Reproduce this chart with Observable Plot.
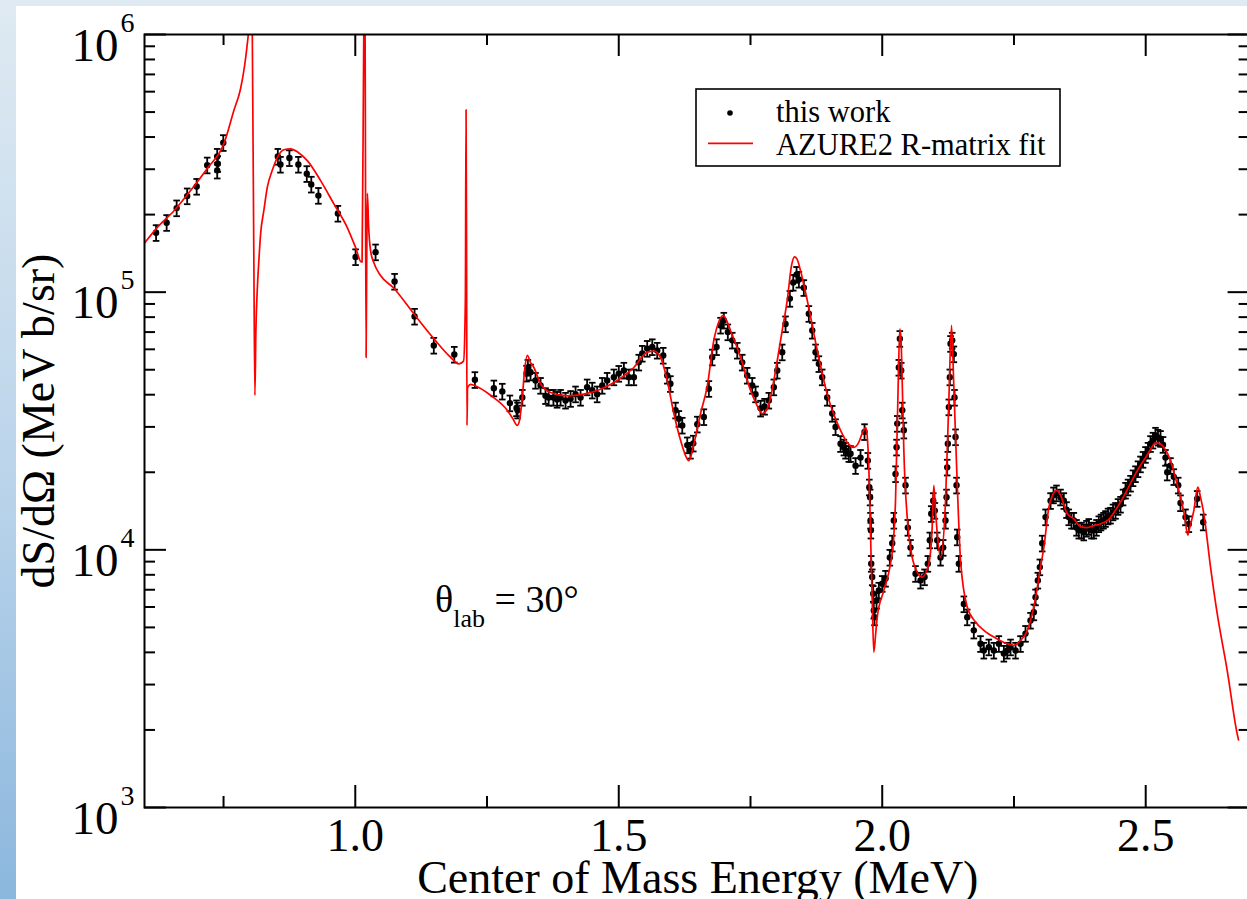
<!DOCTYPE html>
<html>
<head>
<meta charset="utf-8">
<script src="https://cdn.jsdelivr.net/npm/d3@7"></script>
<script src="https://cdn.jsdelivr.net/npm/@observablehq/plot@0.6"></script>
<style>
  html, body { margin: 0; padding: 0; overflow: hidden; width: 1247px; height: 899px; }
  body { background: linear-gradient(to bottom, #dfeaf2 0%, #b9d3ea 55%, #8bb7dd 100%); position: relative; }
  #panel { position: absolute; left: 16px; top: 6px; right: 0; bottom: 0; background: #ffffff; }
  #chart { position: absolute; left: 0; top: 0; width: 1252px; height: 899px; }
  #chart svg text { font-family: "Liberation Serif", "Times New Roman", serif; }
</style>
</head>
<body>
<div id="panel"></div>
<div id="chart"></div>
<script>
// Measured elastic cross sections, theta_lab = 30 deg (E in MeV, dS/dOmega in MeV b/sr)
const energy = [
  0.622, 0.642, 0.661, 0.681, 0.699, 0.719, 0.738, 0.739, 0.738, 0.7495,
  0.853, 0.858, 0.875, 0.892, 0.908, 0.9165, 0.930, 0.967, 1.0006, 1.0385,
  1.0746, 1.1125, 1.149, 1.1879, 1.227, 1.263, 1.279, 1.2934, 1.306, 1.308,
  1.317, 1.325, 1.3275, 1.3326, 1.342, 1.3516, 1.361, 1.367, 1.376, 1.383,
  1.3896, 1.399, 1.4086, 1.418, 1.4275, 1.440, 1.4497, 1.459, 1.4687, 1.478,
  1.4907, 1.500, 1.5097, 1.519, 1.5287, 1.538, 1.5446, 1.554, 1.5636, 1.573,
  1.5844, 1.592, 1.598, 1.6078, 1.614, 1.6205, 1.630, 1.636, 1.6414, 1.649,
  1.6615, 1.671, 1.6774, 1.6856, 1.6932, 1.6994, 1.707, 1.7154, 1.7249, 1.7343,
  1.7438, 1.7533, 1.7596, 1.7691, 1.7767, 1.7848, 1.7943, 1.8008, 1.8102, 1.8165,
  1.8247, 1.8311, 1.8374, 1.8418, 1.8512, 1.8607, 1.8672, 1.8734, 1.8797, 1.8861,
  1.8956, 1.9051, 1.9114, 1.9209, 1.9272, 1.9304, 1.9366, 1.9399, 1.9494, 1.9588,
  1.9664, 1.9727, 1.9755, 1.977, 1.9778, 1.9785, 1.9791, 1.981, 1.9829, 1.984,
  1.9853, 1.9892, 1.9935, 2.000, 2.0063, 2.0144, 2.019, 2.022, 2.0252, 2.0272,
  2.0285, 2.0315, 2.0334, 2.036, 2.038, 2.041, 2.0442, 2.0486, 2.0537, 2.0632,
  2.0727, 2.0803, 2.0865, 2.0903, 2.093, 2.0968, 2.0998, 2.1044, 2.1106, 2.1157,
  2.1201, 2.122, 2.1233, 2.1245, 2.1264, 2.1283, 2.1296, 2.1328, 2.1359, 2.1372,
  2.1391, 2.141, 2.1423, 2.1454, 2.1549, 2.1613, 2.1738, 2.1865, 2.1928, 2.2023,
  2.2118, 2.2213, 2.2308, 2.2372, 2.2435, 2.253, 2.2624, 2.2719, 2.2814, 2.2877,
  2.2909, 2.2953, 2.2991, 2.3036, 2.3099, 2.3194, 2.325, 2.3307, 2.3383, 2.3446,
  2.3497, 2.354, 2.3592, 2.3636, 2.3687, 2.373, 2.3782, 2.3825, 2.3876, 2.392,
  2.3971, 2.4015, 2.4066, 2.411, 2.4152, 2.4199, 2.4237, 2.4285, 2.4332, 2.438,
  2.4427, 2.4475, 2.4522, 2.457, 2.4617, 2.4664, 2.4712, 2.4759, 2.4806, 2.4854,
  2.4901, 2.4949, 2.4996, 2.5044, 2.5091, 2.5138, 2.5186, 2.5233, 2.5281, 2.5328,
  2.5375, 2.5408, 2.547, 2.5533, 2.5617, 2.566, 2.5755, 2.5818, 2.5977, 2.6091
];
const sigma = [
  1.70e5, 1.86e5, 2.12e5, 2.36e5, 2.57e5, 3.11e5, 3.36e5, 3.15e5, 2.97e5, 3.80e5,
  3.36e5, 3.13e5, 3.32e5, 3.13e5, 2.88e5, 2.62e5, 2.37e5, 2.02e5, 1.37e5, 1.43e5,
  1.10e5, 8.05e4, 6.21e4, 5.73e4, 4.57e4, 4.24e4, 4.12e4, 3.71e4, 3.55e4, 3.48e4,
  3.90e4, 4.84e4, 5.10e4, 4.89e4, 4.54e4, 4.34e4, 3.96e4, 3.90e4, 3.90e4, 3.83e4,
  3.90e4, 3.80e4, 3.86e4, 4.02e4, 3.90e4, 4.28e4, 4.16e4, 4.02e4, 4.34e4, 4.54e4,
  4.68e4, 4.83e4, 4.97e4, 4.68e4, 4.68e4, 5.34e4, 5.78e4, 6.04e4, 6.13e4, 5.94e4,
  5.68e4, 4.75e4, 4.41e4, 3.48e4, 3.23e4, 3.04e4, 2.55e4, 2.43e4, 2.59e4, 3.07e4,
  3.28e4, 4.22e4, 5.59e4, 6.13e4, 7.43e4, 7.77e4, 7.00e4, 6.50e4, 5.94e4, 5.34e4,
  4.75e4, 4.34e4, 4.02e4, 3.54e4, 3.60e4, 3.80e4, 4.28e4, 4.97e4, 5.85e4, 7.52e4,
  9.44e4, 1.09e5, 1.17e5, 1.12e5, 1.04e5, 8.25e4, 7.10e4, 5.85e4, 5.27e4, 4.68e4,
  3.90e4, 3.38e4, 3.00e4, 2.58e4, 2.50e4, 2.43e4, 2.36e4, 2.36e4, 2.12e4, 2.28e4,
  2.87e4, 2.22e4, 1.75e4, 1.60e4, 1.30e4, 1.19e4, 8.84e3, 7.84e3, 6.76e3, 5.82e3,
  5.48e3, 6.36e3, 6.96e3, 7.39e3, 7.74e3, 9.34e3, 1.06e4, 1.30e4, 1.97e4, 2.50e4,
  3.09e4, 5.10e4, 6.60e4, 4.97e4, 3.48e4, 2.91e4, 1.78e4, 1.22e4, 1.02e4, 8.08e3,
  7.61e3, 7.84e3, 8.84e3, 1.09e4, 1.38e4, 1.55e4, 1.42e4, 1.09e4, 9.34e3, 1.02e4,
  1.30e4, 1.60e4, 2.09e4, 2.58e4, 3.58e4, 4.68e4, 6.31e4, 6.50e4, 5.75e4, 3.90e4,
  2.74e4, 1.78e4, 1.12e4, 8.84e3, 6.16e3, 5.48e3, 4.87e3, 4.32e3, 4.07e3, 4.19e3,
  4.07e3, 4.32e3, 3.96e3, 4.07e3, 4.19e3, 4.07e3, 4.32e3, 4.73e3, 5.32e3, 5.73e3,
  6.55e3, 7.61e3, 8.57e3, 1.06e4, 1.34e4, 1.55e4, 1.63e4, 1.66e4, 1.60e4, 1.55e4,
  1.43e4, 1.34e4, 1.30e4, 1.30e4, 1.22e4, 1.19e4, 1.19e4, 1.17e4, 1.21e4, 1.23e4,
  1.19e4, 1.19e4, 1.22e4, 1.26e4, 1.28e4, 1.30e4, 1.32e4, 1.35e4, 1.36e4, 1.40e4,
  1.42e4, 1.47e4, 1.50e4, 1.60e4, 1.70e4, 1.75e4, 1.81e4, 1.90e4, 1.97e4, 2.06e4,
  2.15e4, 2.24e4, 2.34e4, 2.43e4, 2.58e4, 2.66e4, 2.78e4, 2.73e4, 2.70e4, 2.56e4,
  2.28e4, 2.00e4, 2.12e4, 1.92e4, 1.78e4, 1.52e4, 1.34e4, 1.26e4, 1.58e4, 1.28e4
];
// Relative uncertainty of each measured point
const relError = 0.07;

// AZURE2 R-matrix fit
const fitEnergy = [
  0.600, 0.624, 0.656, 0.6875, 0.719, 0.7507, 0.7696, 0.7824, 0.790, 0.7947,
  0.7975, 0.800, 0.8025, 0.8046, 0.8074, 0.8095, 0.8114, 0.814, 0.8171, 0.8203,
  0.8266, 0.833, 0.8425, 0.852, 0.8645, 0.8772, 0.8905, 0.909, 0.9342, 0.9594,
  0.9848, 1.0006, 1.0114, 1.0129, 1.0161, 1.0173, 1.0186, 1.0205, 1.0218, 1.023,
  1.0252, 1.029, 1.0353, 1.048, 1.0732, 1.1112, 1.1491, 1.1808, 1.1966, 1.2055,
  1.2089, 1.2102, 1.2112, 1.2120, 1.2131, 1.2188, 1.2251, 1.2567, 1.2884, 1.2985,
  1.3074, 1.3117, 1.3169, 1.3213, 1.3264, 1.3326, 1.3389, 1.3516, 1.3706, 1.4023,
  1.4338, 1.4655, 1.4972, 1.5287, 1.5541, 1.5666, 1.5793, 1.592, 1.6046, 1.6173,
  1.630, 1.633, 1.6425, 1.6552, 1.6679, 1.6804, 1.6894, 1.6983, 1.7046, 1.7121,
  1.7311, 1.750, 1.7615, 1.7723, 1.7805, 1.788, 1.8008, 1.8102, 1.8197, 1.8279,
  1.8336, 1.8393, 1.845, 1.8577, 1.8767, 1.8956, 1.9209, 1.9342, 1.9461, 1.955,
  1.962, 1.9689, 1.9721, 1.9746, 1.9778, 1.981, 1.984, 1.9873, 1.9905, 2.003,
  2.0157, 2.0214, 2.0252, 2.0296, 2.0334, 2.0357, 2.038, 2.041, 2.0474, 2.060,
  2.0759, 2.0884, 2.0945, 2.0979, 2.1011, 2.1044, 2.1106, 2.1201, 2.1264, 2.1315,
  2.1357, 2.1423, 2.1486, 2.1613, 2.177, 2.1928, 2.215, 2.2372, 2.2497, 2.2624,
  2.2738, 2.2814, 2.2909, 2.3004, 2.3067, 2.3162, 2.3232, 2.3313, 2.3383, 2.351,
  2.3636, 2.3763, 2.389, 2.401, 2.4142, 2.4294, 2.4459, 2.4617, 2.4775, 2.4901,
  2.5028, 2.511, 2.5186, 2.5262, 2.5343, 2.547, 2.5565, 2.566, 2.5736, 2.5799,
  2.5831, 2.5913, 2.5989, 2.6040, 2.6103, 2.6230, 2.6357, 2.6547, 2.6736, 2.6761
];
const fitSigma = [
  1.55e5, 1.78e5, 2.07e5, 2.48e5, 3.02e5, 3.77e5, 5.07e5, 6.17e5, 7.58e5, 9.07e5,
  1.05e6, 3.0e6, 3.0e6, 1.0e6, 1.45e5, 3.98e4, 7.1e4, 1.02e5, 1.33e5, 1.68e5,
  2.08e5, 2.55e5, 2.97e5, 3.33e5, 3.57e5, 3.60e5, 3.50e5, 3.24e5, 2.71e5, 2.20e5,
  1.78e5, 1.49e5, 1.31e5, 1.31e5, 1.0e6, 1.5e6, 1.0e6, 5.58e4, 1.45e5, 2.42e5,
  1.82e5, 1.45e5, 1.30e5, 1.16e5, 1.036e5, 8.24e4, 6.6e4, 5.59e4, 5.27e4, 5.4e4,
  9.3e4, 5.1e5, 1.45e5, 3.04e4, 4.27e4, 4.39e4, 4.35e4, 3.98e4, 3.48e4, 3.24e4,
  3.04e4, 3.18e4, 3.90e4, 4.97e4, 5.68e4, 5.33e4, 5.10e4, 4.41e4, 4.08e4, 3.96e4,
  4.02e4, 4.20e4, 4.54e4, 5.10e4, 5.85e4, 5.90e4, 5.59e4, 4.54e4, 3.38e4, 2.66e4,
  2.25e4, 2.22e4, 2.57e4, 3.38e4, 4.31e4, 6.50e4, 7.63e4, 8.12e4, 7.77e4, 7.10e4,
  5.59e4, 4.16e4, 3.67e4, 3.38e4, 3.48e4, 3.90e4, 5.43e4, 7.10e4, 9.29e4, 1.27e5,
  1.37e5, 1.33e5, 1.21e5, 9.29e4, 5.94e4, 4.02e4, 2.91e4, 2.60e4, 2.50e4, 2.60e4,
  2.83e4, 2.98e4, 2.66e4, 2.08e4, 1.155e4, 6.36e3, 4.0e3, 4.66e3, 5.48e3, 6.96e3,
  8.84e3, 1.09e4, 1.55e4, 3.80e4, 7.2e4, 6.5e4, 4.41e4, 2.43e4, 1.34e4, 8.84e3,
  7.84e3, 8.84e3, 1.19e4, 1.78e4, 1.42e4, 1.16e4, 9.34e3, 1.55e4, 3.80e4, 7.43e4,
  4.41e4, 1.81e4, 9.10e3, 6.0e3, 5.25e3, 4.87e3, 4.55e3, 4.32e3, 4.26e3, 4.45e3,
  4.78e3, 5.32e3, 6.50e3, 8.57e3, 1.02e4, 1.46e4, 1.63e4, 1.70e4, 1.63e4, 1.38e4,
  1.32e4, 1.23e4, 1.22e4, 1.24e4, 1.26e4, 1.31e4, 1.46e4, 1.66e4, 1.92e4, 2.13e4,
  2.33e4, 2.49e4, 2.60e4, 2.59e4, 2.50e4, 2.22e4, 1.90e4, 1.60e4, 1.36e4, 1.14e4,
  1.21e4, 1.42e4, 1.75e4, 1.60e4, 1.38e4, 8.57e3, 5.65e3, 3.40e3, 1.93e3, 1.83e3
];

// Axis ticks
const xMajorTicks = [1.0, 1.5, 2.0, 2.5];
const xMinorTicks = [0.75, 1.25, 1.75, 2.25];
const yMajorTicks = [1e3, 1e4, 1e5, 1e6];
const yMinorTicks = [1e3, 1e4, 1e5].flatMap(d => [2, 3, 4, 5, 6, 7, 8, 9].map(m => m * d));

const xTitle = "Center of Mass Energy (MeV)";
const yTitle = "dS/dΩ (MeV b/sr)";
const legendLabels = ["this work", "AZURE2 R-matrix fit"];

const points = energy.map((E, i) => ({E, S: sigma[i]}));
const fit = fitEnergy.map((E, i) => ({E, S: fitSigma[i]}));

// Layout
const W = 1252, H = 899;
const mL = 144, mT = 34, mB = 92, mR = 1.4;
const FW = W - mL - mR, FH = H - mT - mB;
const serif = "Liberation Serif, serif";

// Horizontal cap used for the error bars
const cap = {draw(ctx, size) { const w = Math.sqrt(size / Math.PI); ctx.moveTo(-w, 0); ctx.lineTo(w, 0); }};

const chart = Plot.plot({
  width: W, height: H,
  marginLeft: mL, marginTop: mT, marginBottom: mB, marginRight: mR,
  style: {fontFamily: serif, background: "transparent", maxWidth: "none", overflow: "visible", color: "black"},
  x: {type: "linear", domain: [0.6, 2.7], axis: null},
  y: {type: "log", domain: [1e3, 1e6], axis: null},
  marks: [
    // error bars
    Plot.ruleX(points, {x: "E", y1: d => d.S * (1 - relError), y2: d => d.S * (1 + relError), stroke: "black", strokeWidth: 1.8}),
    Plot.dot(points, {x: "E", y: d => d.S * (1 - relError), symbol: cap, r: 3.3, fill: "none", stroke: "black", strokeWidth: 1.8}),
    Plot.dot(points, {x: "E", y: d => d.S * (1 + relError), symbol: cap, r: 3.3, fill: "none", stroke: "black", strokeWidth: 1.8}),
    Plot.dot(points, {x: "E", y: "S", r: 3.2, fill: "black", stroke: "none"}),
    // R-matrix fit
    Plot.line(fit, {x: "E", y: "S", stroke: "#ff0000", strokeWidth: 1.7, curve: "monotone-x", clip: true}),
    // frame and inward ticks
    Plot.frame({stroke: "black", strokeWidth: 2}),
    Plot.tickX(xMajorTicks, {x: d => d, stroke: "black", strokeWidth: 2, insetTop: FH - 22}),
    Plot.tickX(xMajorTicks, {x: d => d, stroke: "black", strokeWidth: 2, insetBottom: FH - 22}),
    Plot.tickX(xMinorTicks, {x: d => d, stroke: "black", strokeWidth: 2, insetTop: FH - 11}),
    Plot.tickX(xMinorTicks, {x: d => d, stroke: "black", strokeWidth: 2, insetBottom: FH - 11}),
    Plot.tickY(yMajorTicks, {y: d => d, stroke: "black", strokeWidth: 2, insetRight: FW - 22}),
    Plot.tickY(yMajorTicks, {y: d => d, stroke: "black", strokeWidth: 2, insetLeft: FW - 23}),
    Plot.tickY(yMinorTicks, {y: d => d, stroke: "black", strokeWidth: 2, insetRight: FW - 11}),
    Plot.tickY(yMinorTicks, {y: d => d, stroke: "black", strokeWidth: 2, insetLeft: FW - 12}),
    // tick labels
    Plot.text(xMajorTicks, {x: d => d, frameAnchor: "bottom", text: d => d.toFixed(1), dy: 43, lineAnchor: "bottom", fontSize: 46, fontFamily: serif, fill: "black"}),
    Plot.text(yMajorTicks, {y: d => d, frameAnchor: "left", text: () => "10", textAnchor: "end", dx: -26, dy: 26, lineAnchor: "bottom", fontSize: 47, fontFamily: serif, fill: "black"}),
    Plot.text(yMajorTicks, {y: d => d, frameAnchor: "left", text: d => String(Math.round(Math.log10(d))), textAnchor: "start", dx: -24, dy: -3, lineAnchor: "bottom", fontSize: 28, fontFamily: serif, fill: "black"}),
    // axis titles
    Plot.text([xTitle], {frameAnchor: "bottom", textAnchor: "middle", dy: 85, lineAnchor: "bottom", fontSize: 46, fontFamily: serif, fill: "black"}),
    Plot.text([yTitle], {frameAnchor: "left", textAnchor: "middle", rotate: -90, dx: -91, lineAnchor: "bottom", fontSize: 46, fontFamily: serif, fill: "black"})
  ]
});

document.getElementById("chart").appendChild(chart);

// Legend and angle annotation
const svg = d3.select(chart);
const legend = svg.append("g").attr("font-family", serif).attr("fill", "black").attr("text-anchor", "start");
legend.append("rect").attr("x", 696).attr("y", 89).attr("width", 364).attr("height", 77)
  .attr("fill", "white").attr("stroke", "black").attr("stroke-width", 1.6);
legend.append("circle").attr("cx", 730).attr("cy", 113).attr("r", 2.8).attr("fill", "black");
legend.append("line").attr("x1", 708).attr("x2", 753).attr("y1", 143.3).attr("y2", 143.3)
  .attr("stroke", "#ff0000").attr("stroke-width", 1.7);
legend.append("text").attr("x", 776).attr("y", 121.7).attr("font-size", 30.5).attr("text-anchor", "start").text(legendLabels[0]);
legend.append("text").attr("x", 776).attr("y", 155).attr("font-size", 30.5).attr("text-anchor", "start").text(legendLabels[1]);

const note = svg.append("text").attr("font-family", serif).attr("fill", "black").attr("text-anchor", "start")
  .attr("x", 435).attr("y", 611.7).attr("font-size", 38);
note.append("tspan").text("θ");
note.append("tspan").attr("font-size", 26).attr("dy", 15).text("lab");
note.append("tspan").attr("dy", -15).text(" = 30°");
</script>
</body>
</html>
